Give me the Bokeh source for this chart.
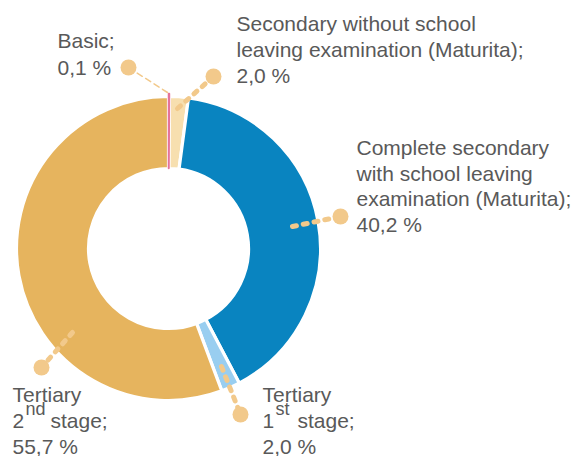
import math
from bokeh.plotting import figure
from bokeh.models import Range1d, ColumnDataSource
from bokeh.core.properties import value
from bokeh.embed import file_html
from bokeh.resources import INLINE

# ---------------- data ----------------
categories = [
    "Basic",
    "Secondary without school leaving examination (Maturita)",
    "Complete secondary with school leaving examination (Maturita)",
    "Tertiary 1st stage",
    "Tertiary 2nd stage",
]
shares = [0.1, 2.0, 40.2, 2.0, 55.7]
share_labels = ["0,1 %", "2,0 %", "40,2 %", "2,0 %", "55,7 %"]

# ---------------- style ----------------
slice_colors = ["#E5739A", "#F7DFAF", "#0984C0", "#99CEF0", "#E6B45E"]
leader_color = "#F2C98B"
text_color = "#595959"
FONT = "Liberation Sans"
FS = "21px"
FS_SUP = "18px"
TEXT_DY = -8  # renderer places alphabetic baseline ~8px lower

W, H = 572, 456


def sx(x):
    return x


def sy(y):
    return H - y


p = figure(width=W, height=H, x_range=Range1d(0, W), y_range=Range1d(0, H),
           x_axis_type=None, y_axis_type=None, toolbar_location=None,
           output_backend="svg", min_border=0)
p.outline_line_color = None
p.background_fill_color = "white"

# ---------------- donut ----------------
cx, cy = sx(168), sy(248)
r_in, r_out = 80, 152
total = sum(shares)
starts, ends = [], []
acc = 0.0
for s in shares:
    a0 = math.pi / 2 - 2 * math.pi * acc / total
    acc += s
    a1 = math.pi / 2 - 2 * math.pi * acc / total
    starts.append(a0)
    ends.append(a1)

src = dict(cat=categories, share=shares, start=starts, end=ends,
           color=slice_colors, x=[cx] * len(shares), y=[cy] * len(shares))
idx_main = [1, 2, 3, 4]
src_main = ColumnDataSource({k: [v[i] for i in idx_main] for k, v in src.items()})
p.annular_wedge(x="x", y="y", inner_radius=r_in, outer_radius=r_out,
                start_angle="start", end_angle="end", direction="clock",
                fill_color="color", line_color="white", line_width=3.2,
                source=src_main)
src_tiny = ColumnDataSource({k: [v[0]] for k, v in src.items()})
p.annular_wedge(x="x", y="y", inner_radius=r_in, outer_radius=r_out + 3,
                start_angle="start", end_angle="end", direction="clock",
                fill_color="color", line_color="color", line_width=1.5,
                source=src_tiny)

# ---------------- leaders (annotation layout, screen px) ----------------
leaders = [
    ((167, 92), (128, 67), 1.5, "6 4"),
    ((177, 108), (213, 76), 5, "4 7"),
    ((292, 226), (340, 216), 5, "4 7"),
    ((221, 366), (240, 414), 5, "4 7"),
    ((72, 332), (41, 367), 5, "4 7"),
]
for (a, b, w, d) in leaders:
    p.line([sx(a[0]), sx(b[0])], [sy(a[1]), sy(b[1])], line_color=leader_color,
           line_width=w, line_dash=d, line_cap="round")
p.scatter([sx(b[0]) for (_, b, _, _) in leaders], [sy(b[1]) for (_, b, _, _) in leaders],
          size=16, fill_color=leader_color, line_color=None)

# ---------------- labels ----------------
pieces = []  # (text, x, baseline, size)
pieces += [("Basic;", 57, 48, FS), (share_labels[0], 57, 75, FS)]
pieces += [("Secondary without school", 236, 31, FS),
           ("leaving examination (Maturita);", 236, 57, FS),
           (share_labels[1], 236, 83, FS)]
pieces += [("Complete secondary", 356, 155, FS),
           ("with school leaving", 356, 181, FS),
           ("examination (Maturita);", 356, 206, FS),
           (share_labels[2], 356, 232, FS)]
pieces += [("Tertiary", 262, 402, FS),
           ("1", 262, 428, FS), ("st", 275, 416, FS_SUP), ("stage;", 297, 428, FS),
           (share_labels[3], 262, 454, FS)]
pieces += [("Tertiary", 12, 402, FS),
           ("2", 12, 428, FS), ("nd", 25, 416, FS_SUP), ("stage;", 50, 428, FS),
           (share_labels[4], 12, 454, FS)]

for (t, x, y, fs) in pieces:
    p.text(x=[sx(x)], y=[sy(y + TEXT_DY)], text=[t], text_font=value(FONT),
           text_font_size=fs, text_color=text_color,
           text_baseline="alphabetic", text_align="left")

open("out.html", "w").write(file_html(p, INLINE))
